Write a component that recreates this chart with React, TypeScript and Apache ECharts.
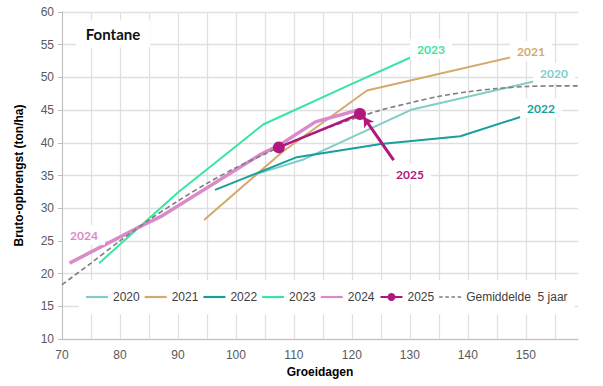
import React, { useEffect, useRef } from "react";
import * as echarts from "echarts";

// ---- data ----
const seriesNames = ["2020", "2021", "2022", "2023", "2024", "2025"];
const avgName = "Gemiddelde  5 jaar";

const s2020: number[][] = [[102, 34.8], [111.5, 37.4], [130.4, 45.1], [151.5, 49.4]];
const s2021: number[][] = [[94.5, 28.2], [108, 38.6], [122.6, 48.0], [147.6, 53.1]];
const s2022: number[][] = [[96.4, 32.8], [110.5, 37.8], [125, 39.8], [138.7, 41.0], [149.6, 44.1]];
const s2023: number[][] = [[76.4, 21.6], [90, 32.4], [104.7, 42.8], [120, 49.0], [130.5, 53.2]];
const s2024: number[][] = [[71.3, 21.6], [83.7, 27.3], [87, 28.7], [104.2, 38.2], [107.4, 39.6], [113.7, 43.2], [121.4, 45.1]];
const s2025: number[][] = [[107.4, 39.3], [121.4, 44.4]];
const avgDays = [70, 75, 80, 85, 90, 95, 100, 105, 110, 115, 120, 125, 130, 135, 140, 145, 150, 155, 159];
const avgYield = [18.3, 21.6, 25.0, 28.2, 31.1, 33.8, 36.2, 38.3, 40.3, 42.0, 43.6, 45.0, 46.1, 47.1, 47.8, 48.3, 48.6, 48.7, 48.7];
const arrowFrom = [127.2, 37.35];
const arrowTo = [122.0, 43.96];

const colors: Record<string, string> = {
  "2020": "#80CDC8",
  "2021": "#D4A96C",
  "2022": "#17A09A",
  "2023": "#38E6A2",
  "2024": "#DA8ACA",
  "2025": "#B0187E",
};

const solidIcon = "path://M0,0H22V2.2H0Z";
const dashIcon = "path://M0,0H3.5V1.6H0Z M6,0H9.5V1.6H6Z M12,0H15.5V1.6H12Z M18,0H21.5V1.6H18Z";

export default function App() {
  const ref = useRef<HTMLDivElement>(null);
  useEffect(() => {
    if (!ref.current) return;
    const chart = echarts.init(ref.current, undefined, { renderer: "svg" });
    const lineSeries = (name: string, data: number[][], width: number, z = 2) => ({
      name,
      type: "line",
      data,
      symbol: "none",
      z,
      lineStyle: { color: colors[name], width },
      itemStyle: { color: colors[name] },
    });
    const labelText = (text: string, x: number, y: number, color: string, size = 12) => ({
      type: "text",
      x,
      y,
      z: 100,
      style: {
        text,
        fill: color,
        fontFamily: "Lato",
        fontWeight: "bold",
        fontSize: size,
        align: "center",
        verticalAlign: "middle",
        backgroundColor: "#fff",
        padding: [4, 7],
      },
    });
    chart.setOption({
      animation: false,
      backgroundColor: "#fff",
      grid: { left: 62, right: 25, top: 12, bottom: 47 },
      xAxis: {
        type: "value",
        min: 70,
        max: 159,
        interval: 5,
        name: "Groeidagen",
        nameLocation: "middle",
        nameGap: 27,
        nameTextStyle: { fontFamily: "Liberation Sans", fontWeight: "bold", fontSize: 12, color: "#000" },
        axisLine: { show: true, lineStyle: { color: "#BFBFBF", width: 1 } },
        axisTick: { show: false },
        axisLabel: {
          formatter: (v: number) => (v % 10 === 0 ? String(v) : ""),
          fontFamily: "Liberation Sans",
          fontSize: 12,
          color: "#595959",
          margin: 10,
        },
        splitLine: { show: true, showMaxLine: false, lineStyle: { color: "#E0E0E0", width: 1.3 } },
      },
      yAxis: {
        type: "value",
        min: 10,
        max: 60,
        interval: 5,
        name: "Bruto-opbrengst (ton/ha)",
        nameLocation: "middle",
        nameGap: 37,
        nameTextStyle: { fontFamily: "Liberation Sans", fontWeight: "bold", fontSize: 12, color: "#000" },
        axisLine: { show: true, lineStyle: { color: "#BFBFBF", width: 1 } },
        axisTick: { show: true, length: 4, lineStyle: { color: "#BFBFBF" } },
        axisLabel: { fontFamily: "Liberation Sans", fontSize: 12, color: "#595959", margin: 8 },
        splitLine: { show: true, lineStyle: { color: "#E0E0E0", width: 1.3 } },
      },
      legend: {
        data: [
          ...seriesNames.map((n) => (n === "2025" ? { name: n } : { name: n, icon: solidIcon })),
          { name: avgName, icon: dashIcon },
        ],
        left: 79,
        top: 280,
        padding: [11, 7],
        backgroundColor: "#fff",
        itemWidth: 22,
        itemHeight: 10,
        itemGap: 5,
        textStyle: { fontFamily: "Liberation Sans", fontSize: 12, color: "#404040" },
      },
      series: [
        lineSeries("2020", s2020, 2),
        lineSeries("2021", s2021, 2),
        lineSeries("2022", s2022, 2),
        lineSeries("2023", s2023, 2),
        lineSeries("2024", s2024, 3.5),
        {
          name: avgName,
          type: "line",
          data: avgDays.map((d, i) => [d, avgYield[i]]),
          symbol: "none",
          smooth: 0.3,
          z: 3,
          lineStyle: { color: "#7F7F7F", width: 1.6, type: [5, 3] },
          itemStyle: { color: "#7F7F7F" },
        },
        {
          name: "2025",
          type: "line",
          data: s2025,
          symbol: "circle",
          symbolSize: 12,
          z: 4,
          lineStyle: { color: colors["2025"], width: 2.5 },
          itemStyle: { color: colors["2025"] },
          markLine: {
            silent: true,
            symbolSize: [9, 10],
            label: { show: false },
            lineStyle: { color: colors["2025"], width: 3, type: "solid" },
            data: [
              [
                { coord: arrowFrom, symbol: "none" },
                { coord: arrowTo, symbol: "arrow" },
              ],
            ],
          },
        },
      ],
      graphic: [
        {
          type: "text",
          x: 113,
          y: 34,
          z: 100,
          style: {
            text: "Fontane",
            fill: "#111",
            fontFamily: "Lato",
            fontWeight: "bold",
            fontSize: 15,
            align: "center",
            verticalAlign: "middle",
            backgroundColor: "#fff",
            padding: [6, 10],
          },
        },
        labelText("2023", 431, 49, colors["2023"]),
        labelText("2021", 531, 51, colors["2021"]),
        labelText("2020", 554, 73, colors["2020"]),
        labelText("2022", 541, 108, colors["2022"]),
        labelText("2025", 410, 174, colors["2025"]),
        labelText("2024", 84, 235, colors["2024"]),
      ],
    });
    return () => chart.dispose();
  }, []);
  return (
    <div
      ref={ref}
      style={{ position: "fixed", left: 0, top: 0, width: 603, height: 386, background: "#fff" }}
    />
  );
}
